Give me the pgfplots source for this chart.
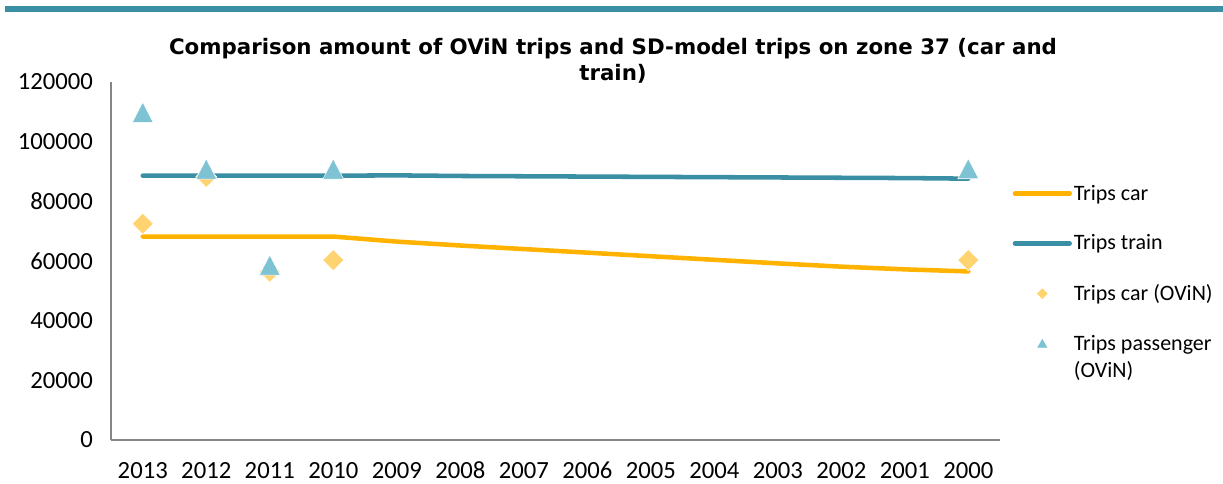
\documentclass[border=0pt]{standalone}
\usepackage{pgfplots}
\pgfplotsset{compat=1.18}
\usepackage{fontspec}
\setmainfont{Carlito}
\newfontfamily\titlefont{DejaVu Sans}

\definecolor{trainc}{HTML}{3A8FA5}
\definecolor{carc}{HTML}{FFB300}
\definecolor{caro}{HTML}{FFD36F}
\definecolor{paso}{HTML}{7DC3D4}
\definecolor{axc}{HTML}{868686}

\begin{document}
\begin{tikzpicture}
% 1px = 0.75pt, origin top-left
\begin{scope}[x=0.75pt,y=-0.75pt]
  \useasboundingbox (0,0) rectangle (1223,480);
  \fill[trainc] (5,6) rectangle (1223,12);
  \node[font=\titlefont\bfseries\fontsize{16}{19.5}\selectfont, align=center] at (613,61)
    {Comparison amount of OViN trips and SD-model trips on zone 37 (car and\\train)};
\end{scope}

\begin{axis}[
  at={(83.25pt,-330pt)}, anchor=south west,
  scale only axis, width=666.75pt, height=268.5pt,
  xmin=-0.5, xmax=13.5, ymin=0, ymax=120000,
  axis lines*=left,
  axis line style={axc, line width=1.1pt},
  xtick={0,...,13},
  xticklabels={2013,2012,2011,2010,2009,2008,2007,2006,2005,2004,2003,2002,2001,2000},
  ytick={0,20000,...,120000},
  major tick length=0pt,
  scaled y ticks=false,
  yticklabel style={/pgf/number format/fixed, /pgf/number format/precision=0,
    /pgf/number format/1000 sep={}, /pgf/number format/assume math mode=true,
    xshift=-10pt},
  tick label style={font=\fontsize{18.5}{21}\selectfont},
  xticklabel style={yshift=-13pt},
  legend style={at={(1.0095,0.726)}, anchor=north west, draw=none, fill=none,
    font=\fontsize{16.5}{20}\selectfont, row sep=21.5pt,
    cells={anchor=west, align=left}, nodes={inner sep=1.5pt}},
  legend image code/.code={\draw[mark repeat=2, mark phase=2, #1]
    plot coordinates {(0cm,0cm) (0.72cm,0cm) (1.44cm,0cm)};},
]
\addplot[carc, line width=3.4pt, line cap=round, line join=round] coordinates {
  (0,68200) (1,68200) (2,68200) (3,68200) (4,66500) (5,65200) (6,64000)
  (7,62800) (8,61600) (9,60400) (10,59200) (11,58100) (12,57200) (13,56500)
};
\addlegendentry{Trips car}
\addplot[trainc, line width=3.4pt, line cap=round, line join=round] coordinates {
  (0,88600) (1,88600) (2,88600) (3,88600) (4,88700) (5,88500) (6,88400)
  (7,88300) (8,88200) (9,88100) (10,88000) (11,87900) (12,87800) (13,87600)
};
\addlegendentry{Trips train}
\addplot[only marks, mark=square*, mark size=5.6pt,
  mark options={rotate=45, draw=white, fill=caro, line width=0.4pt},
  legend image code/.code={\draw[mark=square*, mark size=2.6pt,
    mark options={rotate=45, draw=caro, fill=caro}] plot coordinates {(0.72cm,0cm)};}]
  coordinates {(0,72500) (1,88200) (2,56400) (3,60300) (13,60300)};
\addlegendentry{Trips car (OViN)}
\addplot[only marks, mark=triangle*, mark size=9pt,
  mark options={yshift=-2.2pt, yscale=1.12, draw=white, fill=paso, line width=0.4pt},
  legend image code/.code={\draw[mark=triangle*, mark size=4pt,
    mark options={draw=paso, fill=paso}] plot coordinates {(0.72cm,0cm)};}]
  coordinates {(0,109700) (1,90700) (2,58500) (3,90700) (13,90800)};
\addlegendentry[yshift=-9.4pt]{Trips passenger\\(OViN)}
\end{axis}
\end{tikzpicture}
\end{document}
